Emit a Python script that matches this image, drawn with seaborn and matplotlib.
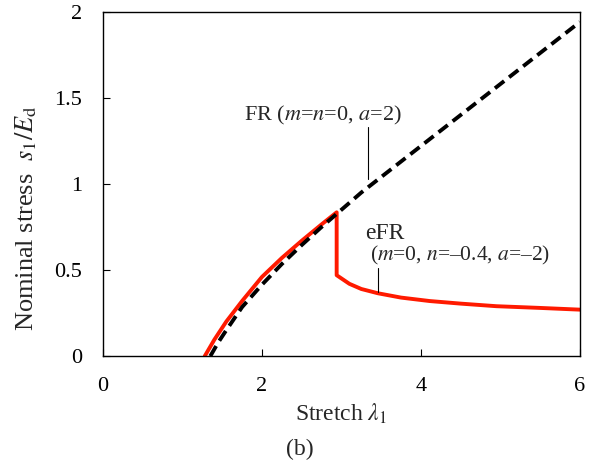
import numpy as np
import pandas as pd
import matplotlib
matplotlib.use("Agg")
import matplotlib.pyplot as plt
import seaborn as sns

# FR model (m=n=0, a=2), dashed black curve
fr_stretch = [1.35, 1.45, 1.55, 1.75, 2.0, 2.25, 2.5, 2.75, 3.0, 3.25, 3.5, 4.0, 4.5, 5.0, 5.5, 6.0]
fr_stress = [0.0, 0.08, 0.15, 0.285, 0.415, 0.535, 0.645, 0.75, 0.85, 0.95, 1.04, 1.22, 1.40, 1.58, 1.76, 1.94]

# eFR model (m=0, n=-0.4, a=-2), red curve with stress drop
efr_stretch = [1.28, 1.4, 1.55, 1.75, 2.0, 2.25, 2.5, 2.75, 2.94,
               2.94, 3.1, 3.25, 3.46, 3.75, 4.11, 4.5, 4.95, 5.5, 6.0]
efr_stress = [0.0, 0.095, 0.20, 0.32, 0.46, 0.57, 0.67, 0.765, 0.835,
              0.47, 0.42, 0.39, 0.365, 0.34, 0.32, 0.305, 0.29, 0.28, 0.27]

sns.set_style("ticks")
plt.rcParams["font.family"] = ["Liberation Serif", "DejaVu Serif"]
plt.rcParams["mathtext.fontset"] = "stix"
plt.rcParams["xtick.direction"] = "in"
plt.rcParams["ytick.direction"] = "in"

fr = pd.DataFrame({"x": fr_stretch, "y": fr_stress})
efr = pd.DataFrame({"x": efr_stretch, "y": efr_stress})

fig, ax = plt.subplots(figsize=(5.99, 4.68), dpi=100)
fig.subplots_adjust(left=0.172, right=0.968, top=0.975, bottom=0.239)

sns.lineplot(data=fr, x="x", y="y", ax=ax, sort=False, estimator=None,
             color="black", linewidth=2.8, linestyle=(0, (3.0, 1.6)), zorder=3)
sns.lineplot(data=efr, x="x", y="y", ax=ax, sort=False, estimator=None,
             color="#ff1a00", linewidth=2.8, zorder=2)

ax.set_xlim(0, 6)
ax.set_ylim(0, 2)
ax.set_xticks([0, 2, 4, 6])
ax.set_yticks([0, 0.5, 1, 1.5, 2])
ax.set_yticklabels(["0", "0.5", "1", "1.5", "2"])
ax.tick_params(labelsize=16, length=5, width=0.8, colors="black")
ax.tick_params(axis="x", pad=15)
ax.tick_params(axis="y", pad=15)
for s in ax.spines.values():
    s.set_linewidth(1.0)
    s.set_color("black")

ax.set_xlabel(r"Stretch $\lambda_1$", fontsize=17, labelpad=4)
ax.set_ylabel(r"Nominal stress  $s_1/E_\mathrm{d}$", fontsize=19)
ax.yaxis.set_label_coords(-0.135, 0.40)

# annotations
ax.text(2.77, 1.40, r"FR ($m$=$n$=0, $a$=2)", fontsize=16, ha="center", va="center")
ax.plot([3.34, 3.34], [1.33, 1.03], color="black", linewidth=0.8)
ax.text(3.30, 0.715, "eFR", fontsize=17, ha="left", va="center")
ax.text(3.36, 0.587, r"($m$=0, $n$=–0.4, $a$=–2)", fontsize=15.5, ha="left", va="center")
ax.plot([3.46, 3.46], [0.51, 0.37], color="black", linewidth=0.8)

fig.text(0.5, 0.040, "(b)", fontsize=17, ha="center", va="center")

fig.savefig("out.png", dpi=100)
